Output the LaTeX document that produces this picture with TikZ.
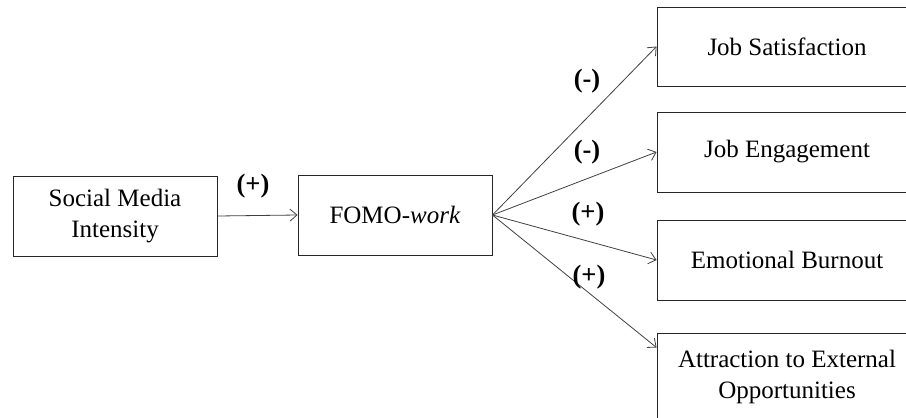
\documentclass[tikz,border=0pt]{standalone}
\usepackage{fontspec}
\setmainfont{Liberation Serif}
\usetikzlibrary{arrows.meta,calc}
\begin{document}
\begin{tikzpicture}[x=1pt,y=-1pt,
  box/.style={draw=black!85,line width=0.9pt,rectangle,inner sep=0pt,align=center,
    font=\fontsize{25}{31}\selectfont},
  link/.style={draw=black!75,line width=0.8pt,-{Straight Barb[length=7pt,width=12pt,line width=0.8pt]}},
  sign/.style={font=\fontsize{26.5}{30}\selectfont\bfseries,inner sep=0pt}]
\useasboundingbox (0,0) rectangle (906,418);
\node[box,minimum width=204pt,minimum height=80pt] (smi) at (115,216) {Social Media\\Intensity};
\node[box,minimum width=194pt,minimum height=80pt] (fomo) at (395,215) {FOMO-\textit{work}};
\node[box,minimum width=260pt,minimum height=79pt] (js) at (787,46.5) {Job Satisfaction};
\node[box,minimum width=260pt,minimum height=80pt] (je) at (787,152) {Job Engagement};
\node[box,minimum width=260pt,minimum height=80pt] (eb) at (787,260) {Emotional Burnout};
\node[box,minimum width=260pt,minimum height=88pt] (ae) at (787,377) {Attraction to External\\Opportunities};
\draw[link] (smi.east) -- (fomo.west);
\draw[link] (fomo.east) -- (js.west);
\draw[link] (fomo.east) -- (je.west);
\draw[link] (fomo.east) -- (eb.west);
\draw[link] (fomo.east) -- ($(ae.north west)+(0,15)$);
\node[sign] (s1) at (253,186) {(+)};
\node[sign] (s2) at (587,81) {(-)};
\node[sign] (s3) at (587,152) {(-)};
\node[sign] (s4) at (588,214) {(+)};
\node[sign] (s5) at (589,277) {(+)};
\end{tikzpicture}
\end{document}
